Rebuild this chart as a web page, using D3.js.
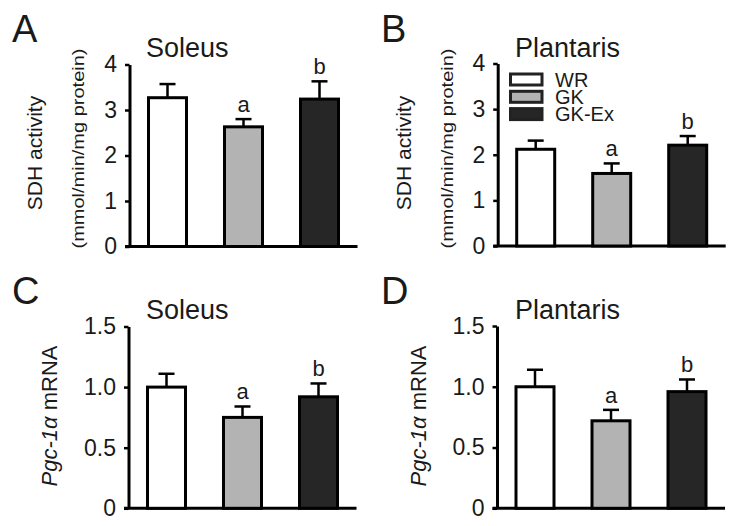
<!DOCTYPE html>
<html>
<head>
<meta charset="utf-8">
<script src="https://cdn.jsdelivr.net/npm/d3@7"></script>
<style>
  html, body { margin: 0; padding: 0; background: #fff; }
  svg { display: block; }
  text { font-family: "Liberation Sans", Arial, sans-serif; fill: #1a1a1a; }
</style>
</head>
<body>
<svg id="chart" width="739" height="526"></svg>
<script>
// ---- data ----
const groups = ["WR", "GK", "GK-Ex"];
const groupColors = ["#ffffff", "#b3b3b3", "#262626"];
const sigLabels = ["", "a", "b"];

const sdhSoleusMean = [3.27, 2.63, 3.24];
const sdhSoleusSE   = [0.30, 0.17, 0.39];
const sdhPlantarisMean = [2.12, 1.59, 2.21];
const sdhPlantarisSE   = [0.19, 0.22, 0.20];
const pgcSoleusMean = [1.00, 0.75, 0.92];
const pgcSoleusSE   = [0.11, 0.09, 0.11];
const pgcPlantarisMean = [1.00, 0.72, 0.96];
const pgcPlantarisSE   = [0.14, 0.09, 0.10];

const sdhTicks = [0, 1, 2, 3, 4];
const sdhTickLabels = ["0", "1", "2", "3", "4"];
const pgcTicks = [0, 0.5, 1.0, 1.5];
const pgcTickLabels = ["0", "0.5", "1.0", "1.5"];

const panelLetters = ["A", "B", "C", "D"];
const panelTitles = ["Soleus", "Plantaris", "Soleus", "Plantaris"];

// ---- layout ----
const svg = d3.select("#chart");
const panels = [
  { letter: panelLetters[0], title: panelTitles[0], mean: sdhSoleusMean, se: sdhSoleusSE,
    ticks: sdhTicks, tickLabels: sdhTickLabels, max: 4, kind: "sdh",
    axisX: 129.5, y0: 246.5, yTop: 64.5, dx: 0, dy: 0, legend: false },
  { letter: panelLetters[1], title: panelTitles[1], mean: sdhPlantarisMean, se: sdhPlantarisSE,
    ticks: sdhTicks, tickLabels: sdhTickLabels, max: 4, kind: "sdh",
    axisX: 497.7, y0: 246, yTop: 63.5, dx: 369, dy: 0, legend: true },
  { letter: panelLetters[2], title: panelTitles[2], mean: pgcSoleusMean, se: pgcSoleusSE,
    ticks: pgcTicks, tickLabels: pgcTickLabels, max: 1.5, kind: "pgc",
    axisX: 128.5, y0: 508.3, yTop: 326.5, dx: 0, dy: 262, legend: false },
  { letter: panelLetters[3], title: panelTitles[3], mean: pgcPlantarisMean, se: pgcPlantarisSE,
    ticks: pgcTicks, tickLabels: pgcTickLabels, max: 1.5, kind: "pgc",
    axisX: 497, y0: 508.3, yTop: 326, dx: 369, dy: 262, legend: false }
];

panels.forEach(p => {
  const g = svg.append("g");
  const y = d3.scaleLinear().domain([0, p.max]).range([p.y0, p.yTop]);
  const x = d3.scaleBand().domain(groups)
    .range([p.axisX, p.axisX + 228]).paddingInner(0.5).paddingOuter(0.25);

  // panel letter
  g.append("text").attr("x", 12 + p.dx).attr("y", 42 + p.dy)
    .attr("font-size", 38).text(p.letter);
  // title
  g.append("text").attr("x", 146 + p.dx).attr("y", 57 + p.dy)
    .attr("font-size", 27).text(p.title);

  // y axis
  const yAxis = d3.axisLeft(y).tickValues(p.ticks)
    .tickFormat((d, i) => p.tickLabels[i]).tickSize(4.5).tickSizeOuter(0).tickPadding(8);
  const ya = g.append("g").attr("transform", `translate(${p.axisX},0)`).call(yAxis);
  ya.selectAll("path.domain").attr("stroke", "#000").attr("stroke-width", 3);
  ya.selectAll(".tick line").attr("stroke", "#000").attr("stroke-width", 2.5);
  ya.selectAll(".tick text").attr("font-size", 23).attr("fill", "#1a1a1a")
    .attr("font-family", "Liberation Sans, Arial, sans-serif");

  // x axis (baseline)
  const xAxis = d3.axisBottom(x).tickValues([]).tickSizeOuter(0);
  const xa = g.append("g").attr("transform", `translate(0,${p.y0})`).call(xAxis);
  xa.selectAll("path.domain").attr("stroke", "#000").attr("stroke-width", 3)
    .attr("d", `M${p.axisX - 4.5},0H${p.axisX + 228}`);

  // bars
  groups.forEach((grp, i) => {
    const cx = x(grp) + x.bandwidth() / 2;
    const top = y(p.mean[i]);
    const errTop = y(p.mean[i] + p.se[i]);
    g.append("line").attr("x1", cx).attr("x2", cx).attr("y1", top).attr("y2", errTop)
      .attr("stroke", "#000").attr("stroke-width", 2.5);
    g.append("line").attr("x1", cx - 8).attr("x2", cx + 8).attr("y1", errTop).attr("y2", errTop)
      .attr("stroke", "#000").attr("stroke-width", 2.5);
    g.append("rect").attr("x", x(grp)).attr("y", top)
      .attr("width", x.bandwidth()).attr("height", p.y0 - top)
      .attr("fill", groupColors[i]).attr("stroke", "#000").attr("stroke-width", 3);
    if (sigLabels[i]) {
      g.append("text").attr("x", cx).attr("y", errTop - 7)
        .attr("text-anchor", "middle").attr("font-size", 22).text(sigLabels[i]);
    }
  });

  // y labels
  if (p.kind === "sdh") {
    g.append("text")
      .attr("transform", `translate(${42 + p.dx},${153 + p.dy}) rotate(-90)`)
      .attr("text-anchor", "middle").attr("font-size", 21).text("SDH activity");
    g.append("text")
      .attr("transform", `translate(${84 + p.dx},${148.5 + p.dy}) rotate(-90)`)
      .attr("text-anchor", "middle").attr("font-size", 17)
      .attr("textLength", 200).attr("lengthAdjust", "spacingAndGlyphs")
      .text("(mmol/min/mg protein)");
  } else {
    const t = g.append("text")
      .attr("transform", `translate(${57 + p.dx},${416}) rotate(-90)`)
      .attr("text-anchor", "middle").attr("font-size", 22);
    t.append("tspan").attr("font-style", "italic").text("Pgc-1α");
    t.append("tspan").text(" mRNA");
  }

  // legend
  if (p.legend) {
    const lg = g.append("g");
    groups.forEach((grp, i) => {
      const ly = 74 + i * 17.3;
      lg.append("rect").attr("x", 510.5).attr("y", ly).attr("width", 31.5).attr("height", 11)
        .attr("fill", groupColors[i]).attr("stroke", "#222").attr("stroke-width", 3);
    });
    const lt = lg.append("text").attr("font-size", 20);
    groups.forEach((grp, i) => {
      lt.append("tspan").attr("x", 555).attr("y", 74 + i * 17.3 + 12.5).text(grp);
    });
  }
});
</script>
</body>
</html>
